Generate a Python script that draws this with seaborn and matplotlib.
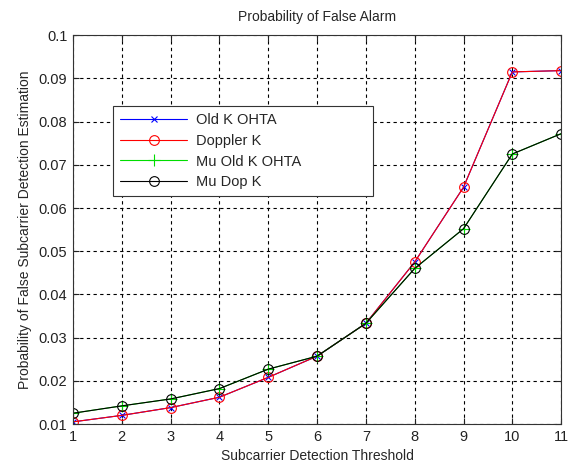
import numpy as np
import pandas as pd
import matplotlib
matplotlib.use("Agg")
import matplotlib.pyplot as plt
import seaborn as sns

thresholds = [1, 2, 3, 4, 5, 6, 7, 8, 9, 10, 11]
old_k_ohta = [0.0105, 0.0120, 0.0138, 0.0162, 0.0208, 0.0257, 0.0333, 0.0475, 0.0648, 0.0915, 0.0918]
doppler_k = [0.0105, 0.0120, 0.0138, 0.0162, 0.0208, 0.0257, 0.0333, 0.0475, 0.0648, 0.0915, 0.0918]
mu_old_k_ohta = [0.0125, 0.0142, 0.0158, 0.0182, 0.0227, 0.0257, 0.0333, 0.0460, 0.0552, 0.0725, 0.0772]
mu_dop_k = [0.0125, 0.0142, 0.0158, 0.0182, 0.0227, 0.0257, 0.0333, 0.0460, 0.0552, 0.0725, 0.0772]
series_names = ["Old K OHTA", "Doppler K", "Mu Old K OHTA", "Mu Dop K"]
yticks = [0.01, 0.02, 0.03, 0.04, 0.05, 0.06, 0.07, 0.08, 0.09, 0.1]
ytick_labels = ["0.01", "0.02", "0.03", "0.04", "0.05", "0.06", "0.07", "0.08", "0.09", "0.1"]

sns.set_style("white")
plt.rcParams['font.family'] = ['Liberation Sans', 'DejaVu Sans']

fig = plt.figure(figsize=(5.72, 4.63), dpi=100)
ax = fig.add_axes([0.1276, 0.0842, 0.8534, 0.8398])

styles = [
    dict(color="#0000ff", marker="x", markersize=4.5, mew=0.8),
    dict(color="#ff0000", marker="o", markersize=7, mew=0.8, markerfacecolor="none"),
    dict(color="#00dd00", marker="+", markersize=8, mew=0.8),
    dict(color="#000000", marker="o", markersize=7, mew=0.8, markerfacecolor="none"),
]
for name, vals, st in zip(series_names, [old_k_ohta, doppler_k, mu_old_k_ohta, mu_dop_k], styles):
    df = pd.DataFrame({"x": thresholds, "y": vals})
    sns.lineplot(data=df, x="x", y="y", ax=ax, label=name, linewidth=0.8,
                 color=st["color"], marker=st["marker"], markersize=st["markersize"],
                 markeredgewidth=st["mew"], markeredgecolor=st["color"],
                 markerfacecolor=st.get("markerfacecolor", st["color"]))

ax.set_xlim(1, 11)
ax.set_ylim(0.01, 0.1)
ax.set_xticks(thresholds)
ax.set_xticklabels([str(t) for t in thresholds])
ax.set_yticks(yticks)
ax.set_yticklabels(ytick_labels)
ax.grid(True, color="black", linestyle=(0, (3, 3)), linewidth=0.8)
for s in ax.spines.values():
    s.set_visible(True)
    s.set_color("#333333")
    s.set_linewidth(0.8)
ax.tick_params(axis="both", which="both", direction="in", length=4, labelsize=10.5,
               top=True, right=True, bottom=True, left=True, colors="#222222", pad=4)
ax.set_xlabel("Subcarrier Detection Threshold", fontsize=10, labelpad=4)
ax.set_ylabel("Probability of False Subcarrier Detection Estimation", fontsize=10, labelpad=5)
ax.set_title("Probability of False Alarm", fontsize=10, pad=10)

leg = ax.legend(loc="upper left", bbox_to_anchor=(0.0814, 0.587, 0.534, 0.2306), mode="expand",
                fontsize=10.5, frameon=True, fancybox=False, edgecolor="#333333", framealpha=1,
                handlelength=4.6, borderpad=0.5, borderaxespad=0, labelspacing=0.45,
                handletextpad=0.6)
leg.get_frame().set_linewidth(0.8)

fig.savefig("out.png", dpi=100, facecolor="white")
